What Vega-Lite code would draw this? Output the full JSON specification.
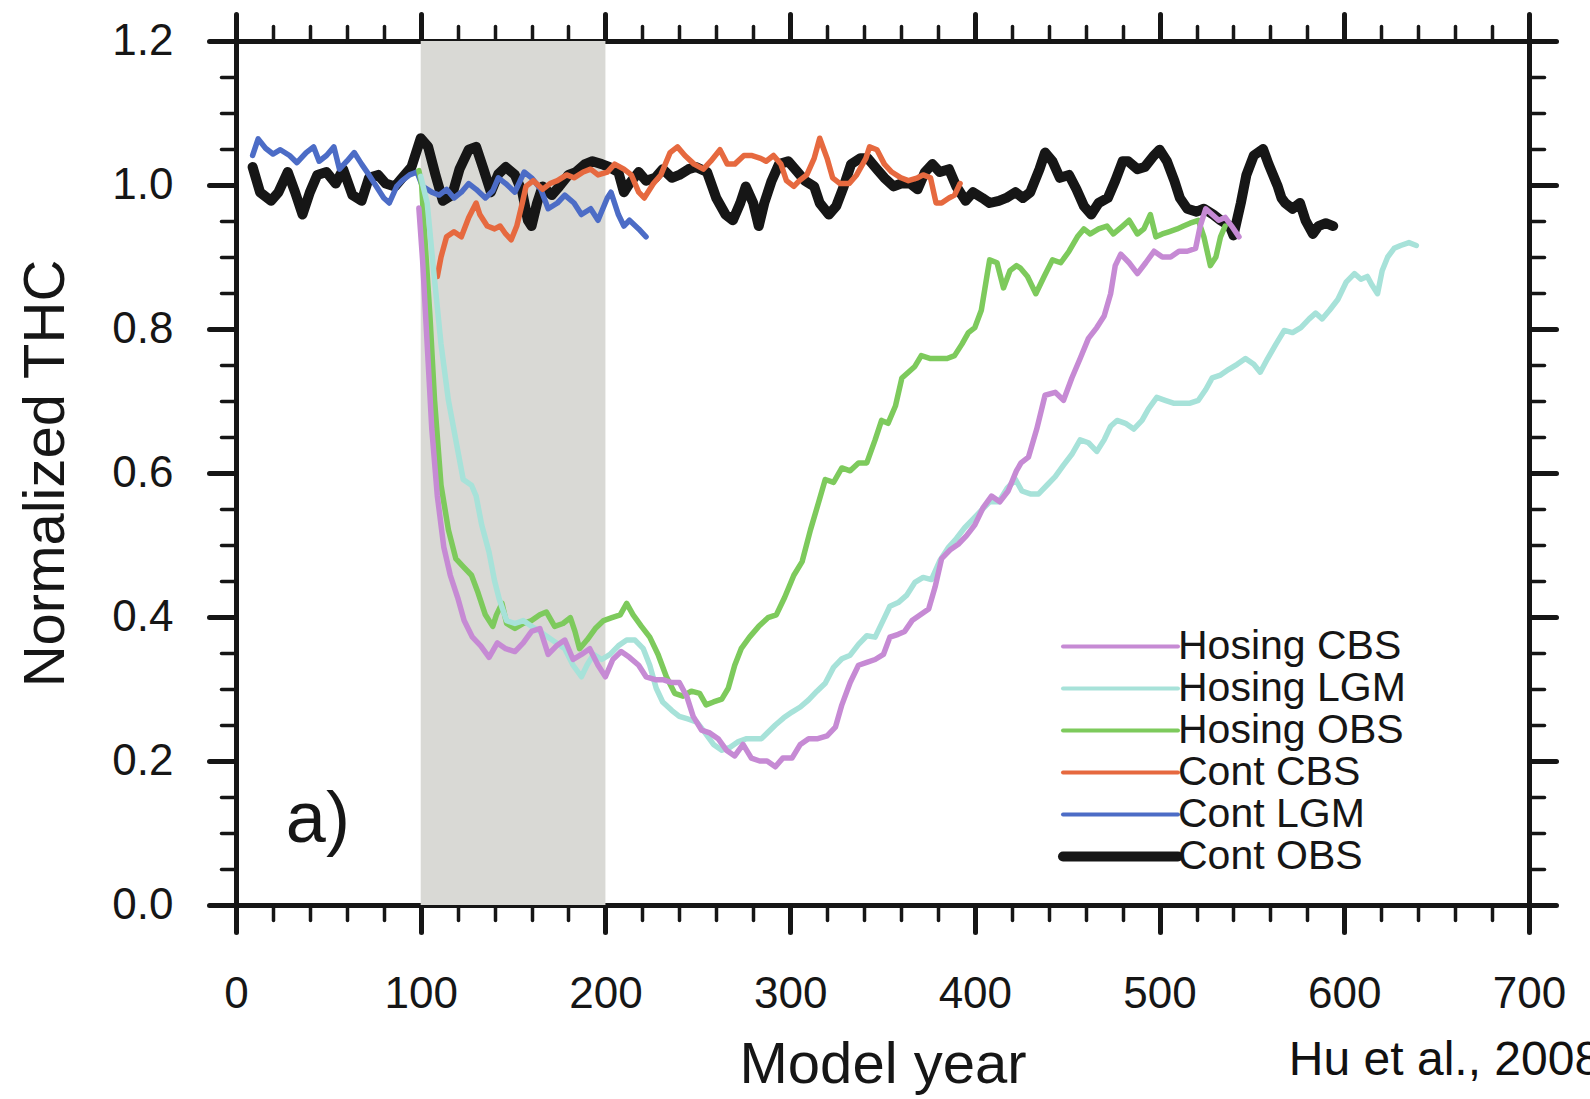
{
  "$schema": "https://vega.github.io/schema/vega-lite/v6.json",
  "width": 1293,
  "height": 864,
  "autosize": {"type": "none"},
  "padding": {"left": 236, "top": 41, "right": 61, "bottom": 194},
  "background": "white",
  "config": {
    "view": {"stroke": null},
    "font": "Liberation Sans",
    "axis": {
      "domainColor": "#161616",
      "domainWidth": 5,
      "domainCap": "square",
      "tickColor": "#161616",
      "tickCap": "round",
      "labelColor": "#161616",
      "titleColor": "#161616",
      "labelFont": "Liberation Sans",
      "titleFont": "Liberation Sans",
      "labelFontSize": 44,
      "titleFontSize": 58,
      "titleFontWeight": "normal",
      "labelFlush": false,
      "labelOverlap": false,
      "labelBound": false,
      "grid": false,
      "zindex": 1
    },
    "legend": {
      "orient": "none", "legendX": 901, "legendY": 585, "title": null, "padding": 0,
      "symbolType": "M-9.45,0H2.05", "symbolSize": 400, "symbolStrokeWidth": 4,
      "labelFont": "Liberation Sans", "labelFontSize": 41, "labelColor": "#161616",
      "labelOffset": 0, "labelLimit": 500, "rowPadding": 0
    }
  },
  "datasets": {
    "thc": [
      {"series":"Cont OBS","year":9,"thc":1.025},{"series":"Cont OBS","year":13,"thc":0.990},{"series":"Cont OBS","year":19,"thc":0.978},{"series":"Cont OBS","year":23,"thc":0.990},{"series":"Cont OBS","year":28,"thc":1.018},{"series":"Cont OBS","year":32,"thc":0.990},{"series":"Cont OBS","year":36,"thc":0.959},{"series":"Cont OBS","year":40,"thc":0.990},{"series":"Cont OBS","year":44,"thc":1.014},{"series":"Cont OBS","year":49,"thc":1.018},{"series":"Cont OBS","year":54,"thc":1.002},{"series":"Cont OBS","year":58,"thc":1.022},{"series":"Cont OBS","year":63,"thc":0.986},{"series":"Cont OBS","year":68,"thc":0.978},{"series":"Cont OBS","year":72,"thc":1.010},{"series":"Cont OBS","year":77,"thc":1.014},{"series":"Cont OBS","year":81,"thc":1.002},{"series":"Cont OBS","year":86,"thc":0.998},{"series":"Cont OBS","year":90,"thc":1.010},{"series":"Cont OBS","year":95,"thc":1.025},{"series":"Cont OBS","year":100,"thc":1.065},{"series":"Cont OBS","year":104,"thc":1.053},{"series":"Cont OBS","year":108,"thc":1.014},{"series":"Cont OBS","year":112,"thc":0.978},{"series":"Cont OBS","year":117,"thc":0.986},{"series":"Cont OBS","year":121,"thc":1.022},{"series":"Cont OBS","year":126,"thc":1.049},{"series":"Cont OBS","year":130,"thc":1.053},{"series":"Cont OBS","year":134,"thc":1.022},{"series":"Cont OBS","year":138,"thc":0.990},{"series":"Cont OBS","year":142,"thc":1.015},{"series":"Cont OBS","year":146,"thc":1.025},{"series":"Cont OBS","year":151,"thc":1.014},{"series":"Cont OBS","year":155,"thc":0.990},{"series":"Cont OBS","year":158,"thc":0.951},{"series":"Cont OBS","year":160,"thc":0.943},{"series":"Cont OBS","year":163,"thc":0.975},{"series":"Cont OBS","year":166,"thc":0.998},{"series":"Cont OBS","year":171,"thc":0.986},{"series":"Cont OBS","year":175,"thc":0.998},{"series":"Cont OBS","year":180,"thc":1.014},{"series":"Cont OBS","year":184,"thc":1.018},{"series":"Cont OBS","year":189,"thc":1.029},{"series":"Cont OBS","year":193,"thc":1.033},{"series":"Cont OBS","year":198,"thc":1.029},{"series":"Cont OBS","year":202,"thc":1.025},{"series":"Cont OBS","year":207,"thc":1.018},{"series":"Cont OBS","year":210,"thc":0.990},{"series":"Cont OBS","year":213,"thc":1.002},{"series":"Cont OBS","year":218,"thc":1.018},{"series":"Cont OBS","year":222,"thc":1.006},{"series":"Cont OBS","year":227,"thc":1.010},{"series":"Cont OBS","year":231,"thc":1.022},{"series":"Cont OBS","year":236,"thc":1.010},{"series":"Cont OBS","year":240,"thc":1.014},{"series":"Cont OBS","year":245,"thc":1.022},{"series":"Cont OBS","year":249,"thc":1.025},{"series":"Cont OBS","year":255,"thc":1.018},{"series":"Cont OBS","year":260,"thc":0.982},{"series":"Cont OBS","year":265,"thc":0.959},{"series":"Cont OBS","year":269,"thc":0.951},{"series":"Cont OBS","year":273,"thc":0.975},{"series":"Cont OBS","year":276,"thc":0.998},{"series":"Cont OBS","year":280,"thc":0.975},{"series":"Cont OBS","year":283,"thc":0.943},{"series":"Cont OBS","year":286,"thc":0.975},{"series":"Cont OBS","year":290,"thc":1.006},{"series":"Cont OBS","year":294,"thc":1.029},{"series":"Cont OBS","year":299,"thc":1.033},{"series":"Cont OBS","year":304,"thc":1.018},{"series":"Cont OBS","year":308,"thc":1.006},{"series":"Cont OBS","year":313,"thc":0.998},{"series":"Cont OBS","year":316,"thc":0.975},{"series":"Cont OBS","year":321,"thc":0.959},{"series":"Cont OBS","year":325,"thc":0.971},{"series":"Cont OBS","year":329,"thc":0.998},{"series":"Cont OBS","year":333,"thc":1.029},{"series":"Cont OBS","year":338,"thc":1.037},{"series":"Cont OBS","year":342,"thc":1.037},{"series":"Cont OBS","year":347,"thc":1.022},{"series":"Cont OBS","year":351,"thc":1.010},{"series":"Cont OBS","year":356,"thc":0.998},{"series":"Cont OBS","year":360,"thc":1.002},{"series":"Cont OBS","year":365,"thc":1.002},{"series":"Cont OBS","year":369,"thc":0.994},{"series":"Cont OBS","year":373,"thc":1.018},{"series":"Cont OBS","year":377,"thc":1.029},{"series":"Cont OBS","year":381,"thc":1.018},{"series":"Cont OBS","year":386,"thc":1.022},{"series":"Cont OBS","year":390,"thc":0.998},{"series":"Cont OBS","year":395,"thc":0.978},{"series":"Cont OBS","year":399,"thc":0.990},{"series":"Cont OBS","year":404,"thc":0.982},{"series":"Cont OBS","year":408,"thc":0.975},{"series":"Cont OBS","year":413,"thc":0.978},{"series":"Cont OBS","year":417,"thc":0.982},{"series":"Cont OBS","year":422,"thc":0.990},{"series":"Cont OBS","year":426,"thc":0.982},{"series":"Cont OBS","year":430,"thc":0.990},{"series":"Cont OBS","year":435,"thc":1.022},{"series":"Cont OBS","year":438,"thc":1.045},{"series":"Cont OBS","year":442,"thc":1.033},{"series":"Cont OBS","year":446,"thc":1.010},{"series":"Cont OBS","year":451,"thc":1.014},{"series":"Cont OBS","year":455,"thc":0.994},{"series":"Cont OBS","year":459,"thc":0.971},{"series":"Cont OBS","year":463,"thc":0.959},{"series":"Cont OBS","year":467,"thc":0.975},{"series":"Cont OBS","year":472,"thc":0.982},{"series":"Cont OBS","year":476,"thc":1.006},{"series":"Cont OBS","year":480,"thc":1.033},{"series":"Cont OBS","year":483,"thc":1.033},{"series":"Cont OBS","year":488,"thc":1.022},{"series":"Cont OBS","year":492,"thc":1.025},{"series":"Cont OBS","year":497,"thc":1.041},{"series":"Cont OBS","year":500,"thc":1.049},{"series":"Cont OBS","year":504,"thc":1.033},{"series":"Cont OBS","year":508,"thc":1.006},{"series":"Cont OBS","year":511,"thc":0.982},{"series":"Cont OBS","year":515,"thc":0.967},{"series":"Cont OBS","year":520,"thc":0.963},{"series":"Cont OBS","year":524,"thc":0.967},{"series":"Cont OBS","year":529,"thc":0.959},{"series":"Cont OBS","year":533,"thc":0.951},{"series":"Cont OBS","year":538,"thc":0.943},{"series":"Cont OBS","year":540,"thc":0.930},{"series":"Cont OBS","year":544,"thc":0.975},{"series":"Cont OBS","year":547,"thc":1.014},{"series":"Cont OBS","year":551,"thc":1.041},{"series":"Cont OBS","year":556,"thc":1.050},{"series":"Cont OBS","year":559,"thc":1.029},{"series":"Cont OBS","year":564,"thc":0.998},{"series":"Cont OBS","year":566,"thc":0.982},{"series":"Cont OBS","year":568,"thc":0.975},{"series":"Cont OBS","year":572,"thc":0.967},{"series":"Cont OBS","year":576,"thc":0.975},{"series":"Cont OBS","year":579,"thc":0.951},{"series":"Cont OBS","year":583,"thc":0.932},{"series":"Cont OBS","year":586,"thc":0.943},{"series":"Cont OBS","year":590,"thc":0.947},{"series":"Cont OBS","year":594,"thc":0.943},

      {"series":"Cont LGM","year":9,"thc":1.041},{"series":"Cont LGM","year":12,"thc":1.064},{"series":"Cont LGM","year":16,"thc":1.051},{"series":"Cont LGM","year":20,"thc":1.043},{"series":"Cont LGM","year":24,"thc":1.049},{"series":"Cont LGM","year":29,"thc":1.041},{"series":"Cont LGM","year":33,"thc":1.031},{"series":"Cont LGM","year":38,"thc":1.045},{"series":"Cont LGM","year":42,"thc":1.053},{"series":"Cont LGM","year":45,"thc":1.033},{"series":"Cont LGM","year":49,"thc":1.041},{"series":"Cont LGM","year":53,"thc":1.053},{"series":"Cont LGM","year":56,"thc":1.022},{"series":"Cont LGM","year":60,"thc":1.033},{"series":"Cont LGM","year":64,"thc":1.045},{"series":"Cont LGM","year":68,"thc":1.029},{"series":"Cont LGM","year":72,"thc":1.014},{"series":"Cont LGM","year":76,"thc":0.998},{"series":"Cont LGM","year":80,"thc":0.982},{"series":"Cont LGM","year":83,"thc":0.975},{"series":"Cont LGM","year":87,"thc":0.998},{"series":"Cont LGM","year":90,"thc":1.006},{"series":"Cont LGM","year":94,"thc":1.014},{"series":"Cont LGM","year":98,"thc":1.018},{"series":"Cont LGM","year":101,"thc":0.998},{"series":"Cont LGM","year":106,"thc":0.990},{"series":"Cont LGM","year":110,"thc":0.986},{"series":"Cont LGM","year":114,"thc":0.994},{"series":"Cont LGM","year":118,"thc":0.982},{"series":"Cont LGM","year":122,"thc":0.990},{"series":"Cont LGM","year":126,"thc":1.002},{"series":"Cont LGM","year":130,"thc":0.994},{"series":"Cont LGM","year":135,"thc":0.982},{"series":"Cont LGM","year":139,"thc":0.992},{"series":"Cont LGM","year":142,"thc":1.010},{"series":"Cont LGM","year":146,"thc":1.002},{"series":"Cont LGM","year":151,"thc":0.990},{"series":"Cont LGM","year":156,"thc":1.018},{"series":"Cont LGM","year":160,"thc":1.010},{"series":"Cont LGM","year":165,"thc":0.994},{"series":"Cont LGM","year":169,"thc":0.967},{"series":"Cont LGM","year":174,"thc":0.975},{"series":"Cont LGM","year":178,"thc":0.986},{"series":"Cont LGM","year":183,"thc":0.975},{"series":"Cont LGM","year":187,"thc":0.959},{"series":"Cont LGM","year":192,"thc":0.967},{"series":"Cont LGM","year":196,"thc":0.951},{"series":"Cont LGM","year":201,"thc":0.982},{"series":"Cont LGM","year":203,"thc":0.990},{"series":"Cont LGM","year":207,"thc":0.959},{"series":"Cont LGM","year":210,"thc":0.943},{"series":"Cont LGM","year":213,"thc":0.951},{"series":"Cont LGM","year":218,"thc":0.939},{"series":"Cont LGM","year":222,"thc":0.928},

      {"series":"Cont CBS","year":109,"thc":0.873},{"series":"Cont CBS","year":111,"thc":0.900},{"series":"Cont CBS","year":114,"thc":0.928},{"series":"Cont CBS","year":118,"thc":0.935},{"series":"Cont CBS","year":122,"thc":0.928},{"series":"Cont CBS","year":126,"thc":0.955},{"series":"Cont CBS","year":130,"thc":0.975},{"series":"Cont CBS","year":132,"thc":0.959},{"series":"Cont CBS","year":136,"thc":0.943},{"series":"Cont CBS","year":140,"thc":0.939},{"series":"Cont CBS","year":143,"thc":0.943},{"series":"Cont CBS","year":146,"thc":0.932},{"series":"Cont CBS","year":149,"thc":0.924},{"series":"Cont CBS","year":152,"thc":0.943},{"series":"Cont CBS","year":155,"thc":0.975},{"series":"Cont CBS","year":157,"thc":0.998},{"series":"Cont CBS","year":161,"thc":1.006},{"series":"Cont CBS","year":166,"thc":0.994},{"series":"Cont CBS","year":170,"thc":1.002},{"series":"Cont CBS","year":174,"thc":1.006},{"series":"Cont CBS","year":179,"thc":1.014},{"series":"Cont CBS","year":183,"thc":1.010},{"series":"Cont CBS","year":188,"thc":1.018},{"series":"Cont CBS","year":192,"thc":1.022},{"series":"Cont CBS","year":196,"thc":1.014},{"series":"Cont CBS","year":201,"thc":1.018},{"series":"Cont CBS","year":205,"thc":1.029},{"series":"Cont CBS","year":210,"thc":1.022},{"series":"Cont CBS","year":214,"thc":1.014},{"series":"Cont CBS","year":218,"thc":0.990},{"series":"Cont CBS","year":221,"thc":0.982},{"series":"Cont CBS","year":226,"thc":1.002},{"series":"Cont CBS","year":230,"thc":1.014},{"series":"Cont CBS","year":235,"thc":1.045},{"series":"Cont CBS","year":239,"thc":1.053},{"series":"Cont CBS","year":243,"thc":1.041},{"series":"Cont CBS","year":248,"thc":1.029},{"series":"Cont CBS","year":253,"thc":1.022},{"series":"Cont CBS","year":257,"thc":1.033},{"series":"Cont CBS","year":262,"thc":1.049},{"series":"Cont CBS","year":266,"thc":1.029},{"series":"Cont CBS","year":270,"thc":1.029},{"series":"Cont CBS","year":275,"thc":1.041},{"series":"Cont CBS","year":279,"thc":1.041},{"series":"Cont CBS","year":284,"thc":1.037},{"series":"Cont CBS","year":287,"thc":1.033},{"series":"Cont CBS","year":291,"thc":1.041},{"series":"Cont CBS","year":295,"thc":1.029},{"series":"Cont CBS","year":298,"thc":1.006},{"series":"Cont CBS","year":302,"thc":0.998},{"series":"Cont CBS","year":305,"thc":1.006},{"series":"Cont CBS","year":309,"thc":1.014},{"series":"Cont CBS","year":313,"thc":1.037},{"series":"Cont CBS","year":316,"thc":1.065},{"series":"Cont CBS","year":320,"thc":1.037},{"series":"Cont CBS","year":323,"thc":1.010},{"series":"Cont CBS","year":327,"thc":1.002},{"series":"Cont CBS","year":332,"thc":1.002},{"series":"Cont CBS","year":336,"thc":1.014},{"series":"Cont CBS","year":341,"thc":1.037},{"series":"Cont CBS","year":343,"thc":1.053},{"series":"Cont CBS","year":347,"thc":1.049},{"series":"Cont CBS","year":351,"thc":1.029},{"series":"Cont CBS","year":355,"thc":1.018},{"series":"Cont CBS","year":360,"thc":1.010},{"series":"Cont CBS","year":364,"thc":1.006},{"series":"Cont CBS","year":369,"thc":1.010},{"series":"Cont CBS","year":372,"thc":1.014},{"series":"Cont CBS","year":376,"thc":1.010},{"series":"Cont CBS","year":379,"thc":0.975},{"series":"Cont CBS","year":382,"thc":0.975},{"series":"Cont CBS","year":386,"thc":0.982},{"series":"Cont CBS","year":389,"thc":0.986},{"series":"Cont CBS","year":392,"thc":1.002},

      {"series":"Hosing OBS","year":99,"thc":1.020},{"series":"Hosing OBS","year":100.5,"thc":1.000},{"series":"Hosing OBS","year":102,"thc":0.935},{"series":"Hosing OBS","year":105,"thc":0.818},{"series":"Hosing OBS","year":107.5,"thc":0.701},{"series":"Hosing OBS","year":111,"thc":0.583},{"series":"Hosing OBS","year":115,"thc":0.521},{"series":"Hosing OBS","year":119,"thc":0.481},{"series":"Hosing OBS","year":123,"thc":0.470},{"series":"Hosing OBS","year":127.5,"thc":0.458},{"series":"Hosing OBS","year":131,"thc":0.434},{"series":"Hosing OBS","year":135,"thc":0.403},{"series":"Hosing OBS","year":139,"thc":0.387},{"series":"Hosing OBS","year":141,"thc":0.403},{"series":"Hosing OBS","year":144,"thc":0.419},{"series":"Hosing OBS","year":146.5,"thc":0.391},{"series":"Hosing OBS","year":151,"thc":0.384},{"series":"Hosing OBS","year":155.5,"thc":0.391},{"series":"Hosing OBS","year":160,"thc":0.395},{"series":"Hosing OBS","year":164.5,"thc":0.403},{"series":"Hosing OBS","year":168,"thc":0.407},{"series":"Hosing OBS","year":172.5,"thc":0.387},{"series":"Hosing OBS","year":177,"thc":0.391},{"series":"Hosing OBS","year":181,"thc":0.399},{"series":"Hosing OBS","year":183.5,"thc":0.380},{"series":"Hosing OBS","year":186,"thc":0.356},{"series":"Hosing OBS","year":190,"thc":0.368},{"series":"Hosing OBS","year":194.5,"thc":0.384},{"series":"Hosing OBS","year":199,"thc":0.395},{"series":"Hosing OBS","year":203.5,"thc":0.399},{"series":"Hosing OBS","year":208,"thc":0.403},{"series":"Hosing OBS","year":211.5,"thc":0.419},{"series":"Hosing OBS","year":215,"thc":0.403},{"series":"Hosing OBS","year":219.5,"thc":0.387},{"series":"Hosing OBS","year":224,"thc":0.372},{"series":"Hosing OBS","year":228.5,"thc":0.348},{"series":"Hosing OBS","year":233,"thc":0.317},{"series":"Hosing OBS","year":237.5,"thc":0.294},{"series":"Hosing OBS","year":242,"thc":0.290},{"series":"Hosing OBS","year":246.5,"thc":0.297},{"series":"Hosing OBS","year":251,"thc":0.294},{"series":"Hosing OBS","year":254.5,"thc":0.278},{"series":"Hosing OBS","year":258.5,"thc":0.282},{"series":"Hosing OBS","year":263,"thc":0.286},{"series":"Hosing OBS","year":266.5,"thc":0.301},{"series":"Hosing OBS","year":270,"thc":0.333},{"series":"Hosing OBS","year":273.5,"thc":0.356},{"series":"Hosing OBS","year":278,"thc":0.372},{"series":"Hosing OBS","year":283,"thc":0.387},{"series":"Hosing OBS","year":288,"thc":0.399},{"series":"Hosing OBS","year":292.5,"thc":0.403},{"series":"Hosing OBS","year":297,"thc":0.427},{"series":"Hosing OBS","year":302,"thc":0.458},{"series":"Hosing OBS","year":306.5,"thc":0.477},{"series":"Hosing OBS","year":311,"thc":0.521},{"series":"Hosing OBS","year":315.5,"thc":0.560},{"series":"Hosing OBS","year":319,"thc":0.591},{"series":"Hosing OBS","year":323.5,"thc":0.587},{"series":"Hosing OBS","year":328,"thc":0.607},{"series":"Hosing OBS","year":332.5,"thc":0.603},{"series":"Hosing OBS","year":337,"thc":0.614},{"series":"Hosing OBS","year":341.5,"thc":0.614},{"series":"Hosing OBS","year":346,"thc":0.646},{"series":"Hosing OBS","year":349.5,"thc":0.673},{"series":"Hosing OBS","year":353,"thc":0.669},{"series":"Hosing OBS","year":357,"thc":0.693},{"series":"Hosing OBS","year":360.5,"thc":0.732},{"series":"Hosing OBS","year":364,"thc":0.740},{"series":"Hosing OBS","year":367.5,"thc":0.748},{"series":"Hosing OBS","year":371,"thc":0.763},{"series":"Hosing OBS","year":376,"thc":0.759},{"series":"Hosing OBS","year":380,"thc":0.759},{"series":"Hosing OBS","year":385,"thc":0.759},{"series":"Hosing OBS","year":389,"thc":0.763},{"series":"Hosing OBS","year":393,"thc":0.779},{"series":"Hosing OBS","year":396.5,"thc":0.795},{"series":"Hosing OBS","year":400,"thc":0.802},{"series":"Hosing OBS","year":403.5,"thc":0.826},{"series":"Hosing OBS","year":406.5,"thc":0.873},{"series":"Hosing OBS","year":408,"thc":0.896},{"series":"Hosing OBS","year":412,"thc":0.892},{"series":"Hosing OBS","year":415.5,"thc":0.857},{"series":"Hosing OBS","year":419,"thc":0.881},{"series":"Hosing OBS","year":422.5,"thc":0.888},{"series":"Hosing OBS","year":424.5,"thc":0.885},{"series":"Hosing OBS","year":428.5,"thc":0.873},{"series":"Hosing OBS","year":433,"thc":0.849},{"series":"Hosing OBS","year":437.5,"thc":0.873},{"series":"Hosing OBS","year":442,"thc":0.896},{"series":"Hosing OBS","year":446.5,"thc":0.892},{"series":"Hosing OBS","year":451,"thc":0.908},{"series":"Hosing OBS","year":455.5,"thc":0.928},{"series":"Hosing OBS","year":459,"thc":0.939},{"series":"Hosing OBS","year":462.5,"thc":0.932},{"series":"Hosing OBS","year":467,"thc":0.939},{"series":"Hosing OBS","year":471.5,"thc":0.943},{"series":"Hosing OBS","year":475,"thc":0.932},{"series":"Hosing OBS","year":480,"thc":0.943},{"series":"Hosing OBS","year":483.5,"thc":0.951},{"series":"Hosing OBS","year":488,"thc":0.932},{"series":"Hosing OBS","year":491.5,"thc":0.939},{"series":"Hosing OBS","year":495,"thc":0.959},{"series":"Hosing OBS","year":498,"thc":0.928},{"series":"Hosing OBS","year":501.5,"thc":0.932},{"series":"Hosing OBS","year":505,"thc":0.935},{"series":"Hosing OBS","year":509.5,"thc":0.939},{"series":"Hosing OBS","year":513,"thc":0.943},{"series":"Hosing OBS","year":516.5,"thc":0.947},{"series":"Hosing OBS","year":521,"thc":0.951},{"series":"Hosing OBS","year":524,"thc":0.928},{"series":"Hosing OBS","year":527.5,"thc":0.888},{"series":"Hosing OBS","year":530.5,"thc":0.900},{"series":"Hosing OBS","year":533,"thc":0.928},{"series":"Hosing OBS","year":535.5,"thc":0.943},

      {"series":"Hosing LGM","year":100,"thc":1.012},{"series":"Hosing LGM","year":103.5,"thc":0.975},{"series":"Hosing LGM","year":107,"thc":0.881},{"series":"Hosing LGM","year":111,"thc":0.779},{"series":"Hosing LGM","year":115,"thc":0.701},{"series":"Hosing LGM","year":119,"thc":0.646},{"series":"Hosing LGM","year":123,"thc":0.591},{"series":"Hosing LGM","year":127.5,"thc":0.583},{"series":"Hosing LGM","year":130,"thc":0.568},{"series":"Hosing LGM","year":133,"thc":0.528},{"series":"Hosing LGM","year":137,"thc":0.490},{"series":"Hosing LGM","year":140,"thc":0.450},{"series":"Hosing LGM","year":142.5,"thc":0.425},{"series":"Hosing LGM","year":146.5,"thc":0.395},{"series":"Hosing LGM","year":151,"thc":0.391},{"series":"Hosing LGM","year":155.5,"thc":0.395},{"series":"Hosing LGM","year":160,"thc":0.387},{"series":"Hosing LGM","year":164.5,"thc":0.380},{"series":"Hosing LGM","year":169,"thc":0.372},{"series":"Hosing LGM","year":173.5,"thc":0.364},{"series":"Hosing LGM","year":178,"thc":0.356},{"series":"Hosing LGM","year":182.5,"thc":0.333},{"series":"Hosing LGM","year":187,"thc":0.317},{"series":"Hosing LGM","year":190,"thc":0.333},{"series":"Hosing LGM","year":193.5,"thc":0.348},{"series":"Hosing LGM","year":198,"thc":0.341},{"series":"Hosing LGM","year":202.5,"thc":0.348},{"series":"Hosing LGM","year":207,"thc":0.360},{"series":"Hosing LGM","year":211.5,"thc":0.368},{"series":"Hosing LGM","year":216,"thc":0.368},{"series":"Hosing LGM","year":220.5,"thc":0.356},{"series":"Hosing LGM","year":224,"thc":0.333},{"series":"Hosing LGM","year":227.5,"thc":0.301},{"series":"Hosing LGM","year":231,"thc":0.282},{"series":"Hosing LGM","year":236,"thc":0.270},{"series":"Hosing LGM","year":240,"thc":0.262},{"series":"Hosing LGM","year":245,"thc":0.258},{"series":"Hosing LGM","year":249.5,"thc":0.254},{"series":"Hosing LGM","year":254,"thc":0.239},{"series":"Hosing LGM","year":258.5,"thc":0.223},{"series":"Hosing LGM","year":263,"thc":0.215},{"series":"Hosing LGM","year":267.5,"thc":0.219},{"series":"Hosing LGM","year":272,"thc":0.227},{"series":"Hosing LGM","year":276.5,"thc":0.231},{"series":"Hosing LGM","year":281,"thc":0.231},{"series":"Hosing LGM","year":284.5,"thc":0.231},{"series":"Hosing LGM","year":288,"thc":0.240},{"series":"Hosing LGM","year":292,"thc":0.250},{"series":"Hosing LGM","year":296.5,"thc":0.260},{"series":"Hosing LGM","year":301,"thc":0.268},{"series":"Hosing LGM","year":305.5,"thc":0.275},{"series":"Hosing LGM","year":310,"thc":0.285},{"series":"Hosing LGM","year":314.5,"thc":0.297},{"series":"Hosing LGM","year":319,"thc":0.308},{"series":"Hosing LGM","year":323.5,"thc":0.330},{"series":"Hosing LGM","year":328,"thc":0.342},{"series":"Hosing LGM","year":332.5,"thc":0.347},{"series":"Hosing LGM","year":337,"thc":0.362},{"series":"Hosing LGM","year":341.5,"thc":0.374},{"series":"Hosing LGM","year":346,"thc":0.372},{"series":"Hosing LGM","year":350.5,"thc":0.396},{"series":"Hosing LGM","year":354,"thc":0.415},{"series":"Hosing LGM","year":358.5,"thc":0.420},{"series":"Hosing LGM","year":363,"thc":0.430},{"series":"Hosing LGM","year":367.5,"thc":0.448},{"series":"Hosing LGM","year":372,"thc":0.455},{"series":"Hosing LGM","year":376.5,"thc":0.452},{"series":"Hosing LGM","year":381,"thc":0.478},{"series":"Hosing LGM","year":385.5,"thc":0.496},{"series":"Hosing LGM","year":390,"thc":0.509},{"series":"Hosing LGM","year":394.5,"thc":0.524},{"series":"Hosing LGM","year":399,"thc":0.536},{"series":"Hosing LGM","year":403.5,"thc":0.548},{"series":"Hosing LGM","year":408,"thc":0.560},{"series":"Hosing LGM","year":413,"thc":0.560},{"series":"Hosing LGM","year":417.5,"thc":0.579},{"series":"Hosing LGM","year":422,"thc":0.591},{"series":"Hosing LGM","year":425.5,"thc":0.575},{"series":"Hosing LGM","year":430,"thc":0.571},{"series":"Hosing LGM","year":434.5,"thc":0.571},{"series":"Hosing LGM","year":439,"thc":0.583},{"series":"Hosing LGM","year":443.5,"thc":0.595},{"series":"Hosing LGM","year":448,"thc":0.611},{"series":"Hosing LGM","year":452.5,"thc":0.626},{"series":"Hosing LGM","year":457,"thc":0.646},{"series":"Hosing LGM","year":461.5,"thc":0.642},{"series":"Hosing LGM","year":466,"thc":0.630},{"series":"Hosing LGM","year":470,"thc":0.646},{"series":"Hosing LGM","year":473.5,"thc":0.665},{"series":"Hosing LGM","year":477,"thc":0.673},{"series":"Hosing LGM","year":481.5,"thc":0.669},{"series":"Hosing LGM","year":486,"thc":0.661},{"series":"Hosing LGM","year":490.5,"thc":0.673},{"series":"Hosing LGM","year":494,"thc":0.689},{"series":"Hosing LGM","year":498.5,"thc":0.705},{"series":"Hosing LGM","year":503,"thc":0.701},{"series":"Hosing LGM","year":507.5,"thc":0.697},{"series":"Hosing LGM","year":512,"thc":0.697},{"series":"Hosing LGM","year":516.5,"thc":0.697},{"series":"Hosing LGM","year":521,"thc":0.701},{"series":"Hosing LGM","year":525,"thc":0.716},{"series":"Hosing LGM","year":528.5,"thc":0.732},{"series":"Hosing LGM","year":533,"thc":0.736},{"series":"Hosing LGM","year":537.5,"thc":0.744},{"series":"Hosing LGM","year":542,"thc":0.751},{"series":"Hosing LGM","year":546.5,"thc":0.759},{"series":"Hosing LGM","year":551,"thc":0.751},{"series":"Hosing LGM","year":554.5,"thc":0.740},{"series":"Hosing LGM","year":558.5,"thc":0.759},{"series":"Hosing LGM","year":563,"thc":0.779},{"series":"Hosing LGM","year":567.5,"thc":0.798},{"series":"Hosing LGM","year":572,"thc":0.795},{"series":"Hosing LGM","year":576.5,"thc":0.802},{"series":"Hosing LGM","year":581,"thc":0.814},{"series":"Hosing LGM","year":584.5,"thc":0.822},{"series":"Hosing LGM","year":588,"thc":0.814},{"series":"Hosing LGM","year":592,"thc":0.826},{"series":"Hosing LGM","year":596.5,"thc":0.841},{"series":"Hosing LGM","year":601,"thc":0.865},{"series":"Hosing LGM","year":605.5,"thc":0.877},{"series":"Hosing LGM","year":609,"thc":0.869},{"series":"Hosing LGM","year":612.5,"thc":0.873},{"series":"Hosing LGM","year":615,"thc":0.861},{"series":"Hosing LGM","year":618,"thc":0.849},{"series":"Hosing LGM","year":620.5,"thc":0.881},{"series":"Hosing LGM","year":623.5,"thc":0.900},{"series":"Hosing LGM","year":627,"thc":0.912},{"series":"Hosing LGM","year":630.5,"thc":0.916},{"series":"Hosing LGM","year":635,"thc":0.920},{"series":"Hosing LGM","year":639,"thc":0.916},

      {"series":"Hosing CBS","year":99,"thc":0.968},{"series":"Hosing CBS","year":101,"thc":0.896},{"series":"Hosing CBS","year":103.5,"thc":0.779},{"series":"Hosing CBS","year":106,"thc":0.661},{"series":"Hosing CBS","year":109,"thc":0.568},{"series":"Hosing CBS","year":112.5,"thc":0.497},{"series":"Hosing CBS","year":116,"thc":0.458},{"series":"Hosing CBS","year":120,"thc":0.427},{"series":"Hosing CBS","year":123.5,"thc":0.395},{"series":"Hosing CBS","year":128,"thc":0.372},{"series":"Hosing CBS","year":132.5,"thc":0.360},{"series":"Hosing CBS","year":137,"thc":0.344},{"series":"Hosing CBS","year":141.5,"thc":0.364},{"series":"Hosing CBS","year":146,"thc":0.356},{"series":"Hosing CBS","year":151,"thc":0.352},{"series":"Hosing CBS","year":155.5,"thc":0.364},{"series":"Hosing CBS","year":160,"thc":0.380},{"series":"Hosing CBS","year":164.5,"thc":0.384},{"series":"Hosing CBS","year":169,"thc":0.348},{"series":"Hosing CBS","year":173.5,"thc":0.360},{"series":"Hosing CBS","year":178,"thc":0.368},{"series":"Hosing CBS","year":182.5,"thc":0.341},{"series":"Hosing CBS","year":187,"thc":0.348},{"series":"Hosing CBS","year":191.5,"thc":0.356},{"series":"Hosing CBS","year":196,"thc":0.333},{"series":"Hosing CBS","year":200,"thc":0.317},{"series":"Hosing CBS","year":204,"thc":0.341},{"series":"Hosing CBS","year":208.5,"thc":0.352},{"series":"Hosing CBS","year":213,"thc":0.344},{"series":"Hosing CBS","year":218,"thc":0.333},{"series":"Hosing CBS","year":222,"thc":0.317},{"series":"Hosing CBS","year":227,"thc":0.313},{"series":"Hosing CBS","year":231,"thc":0.313},{"series":"Hosing CBS","year":236,"thc":0.309},{"series":"Hosing CBS","year":240,"thc":0.309},{"series":"Hosing CBS","year":244,"thc":0.290},{"series":"Hosing CBS","year":247.5,"thc":0.262},{"series":"Hosing CBS","year":252,"thc":0.243},{"series":"Hosing CBS","year":256.5,"thc":0.239},{"series":"Hosing CBS","year":261,"thc":0.231},{"series":"Hosing CBS","year":265.5,"thc":0.215},{"series":"Hosing CBS","year":270,"thc":0.207},{"series":"Hosing CBS","year":274.5,"thc":0.223},{"series":"Hosing CBS","year":279,"thc":0.204},{"series":"Hosing CBS","year":283.5,"thc":0.200},{"series":"Hosing CBS","year":287.5,"thc":0.200},{"series":"Hosing CBS","year":292,"thc":0.192},{"series":"Hosing CBS","year":296,"thc":0.204},{"series":"Hosing CBS","year":301,"thc":0.204},{"series":"Hosing CBS","year":305.5,"thc":0.223},{"series":"Hosing CBS","year":310,"thc":0.231},{"series":"Hosing CBS","year":315,"thc":0.231},{"series":"Hosing CBS","year":320,"thc":0.235},{"series":"Hosing CBS","year":324.5,"thc":0.247},{"series":"Hosing CBS","year":328,"thc":0.278},{"series":"Hosing CBS","year":332.5,"thc":0.309},{"series":"Hosing CBS","year":337,"thc":0.333},{"series":"Hosing CBS","year":341.5,"thc":0.337},{"series":"Hosing CBS","year":346,"thc":0.341},{"series":"Hosing CBS","year":350.5,"thc":0.348},{"series":"Hosing CBS","year":354,"thc":0.372},{"series":"Hosing CBS","year":358.5,"thc":0.376},{"series":"Hosing CBS","year":362,"thc":0.380},{"series":"Hosing CBS","year":366,"thc":0.395},{"series":"Hosing CBS","year":370.5,"thc":0.403},{"series":"Hosing CBS","year":375,"thc":0.411},{"series":"Hosing CBS","year":378.5,"thc":0.442},{"series":"Hosing CBS","year":382,"thc":0.481},{"series":"Hosing CBS","year":386.5,"thc":0.493},{"series":"Hosing CBS","year":391,"thc":0.501},{"series":"Hosing CBS","year":395.5,"thc":0.513},{"series":"Hosing CBS","year":400,"thc":0.528},{"series":"Hosing CBS","year":404.5,"thc":0.552},{"series":"Hosing CBS","year":409,"thc":0.568},{"series":"Hosing CBS","year":413.5,"thc":0.560},{"series":"Hosing CBS","year":418,"thc":0.575},{"series":"Hosing CBS","year":422.5,"thc":0.603},{"series":"Hosing CBS","year":425,"thc":0.614},{"series":"Hosing CBS","year":429,"thc":0.622},{"series":"Hosing CBS","year":433.5,"thc":0.661},{"series":"Hosing CBS","year":438,"thc":0.708},{"series":"Hosing CBS","year":443.5,"thc":0.712},{"series":"Hosing CBS","year":448,"thc":0.701},{"series":"Hosing CBS","year":452.5,"thc":0.732},{"series":"Hosing CBS","year":457,"thc":0.759},{"series":"Hosing CBS","year":461.5,"thc":0.787},{"series":"Hosing CBS","year":466,"thc":0.802},{"series":"Hosing CBS","year":470,"thc":0.818},{"series":"Hosing CBS","year":473.5,"thc":0.849},{"series":"Hosing CBS","year":476,"thc":0.888},{"series":"Hosing CBS","year":479,"thc":0.904},{"series":"Hosing CBS","year":483.5,"thc":0.892},{"series":"Hosing CBS","year":488,"thc":0.877},{"series":"Hosing CBS","year":492.5,"thc":0.892},{"series":"Hosing CBS","year":497,"thc":0.908},{"series":"Hosing CBS","year":501.5,"thc":0.900},{"series":"Hosing CBS","year":506,"thc":0.900},{"series":"Hosing CBS","year":510.5,"thc":0.908},{"series":"Hosing CBS","year":515,"thc":0.908},{"series":"Hosing CBS","year":519.5,"thc":0.912},{"series":"Hosing CBS","year":522,"thc":0.943},{"series":"Hosing CBS","year":525,"thc":0.967},{"series":"Hosing CBS","year":528.5,"thc":0.959},{"series":"Hosing CBS","year":532,"thc":0.951},{"series":"Hosing CBS","year":535.5,"thc":0.955},{"series":"Hosing CBS","year":539,"thc":0.943},{"series":"Hosing CBS","year":543,"thc":0.928}
    ]
  },
  "layer": [
    {
      "description": "Shaded hosing period, years 100 to 200, with the labelled bottom and left axes",
      "data": {"values": [{}]},
      "mark": {"type": "rect", "color": "#d9d9d5"},
      "encoding": {
        "x": {
          "datum": 100, "type": "quantitative",
          "scale": {"domain": [0, 700], "nice": false, "zero": false},
          "axis": {
            "orient": "bottom", "title": "Model year",
            "values": [0, 100, 200, 300, 400, 500, 600, 700], "format": "d",
            "tickSize": 27, "tickWidth": 5, "labelPadding": 40, "titlePadding": 20
          }
        },
        "x2": {"datum": 200},
        "y": {
          "datum": 0, "type": "quantitative",
          "scale": {"domain": [0, 1.2], "nice": false, "zero": false},
          "axis": {
            "orient": "left", "title": "Normalized THC",
            "values": [0, 0.2, 0.4, 0.6, 0.8, 1.0, 1.2], "format": ".1f",
            "tickSize": 27, "tickWidth": 5, "labelPadding": 36, "titlePadding": 36
          }
        },
        "y2": {"datum": 1.2}
      }
    },
    {
      "description": "Cont OBS drawn first and thick; carries the minor ticks of the bottom and left axes",
      "data": {"name": "thc"},
      "transform": [{"filter": "datum.series === 'Cont OBS'"}],
      "mark": {"type": "line", "strokeWidth": 10, "strokeCap": "round", "strokeJoin": "round"},
      "encoding": {
        "x": {
          "field": "year", "type": "quantitative",
          "scale": {"domain": [0, 700], "nice": false, "zero": false},
          "axis": {
            "orient": "bottom", "title": null, "labels": false, "domain": false,
            "values": [0,20,40,60,80,100,120,140,160,180,200,220,240,260,280,300,320,340,360,380,400,420,440,460,480,500,520,540,560,580,600,620,640,660,680,700],
            "tickSize": 15, "tickWidth": 3.5
          }
        },
        "y": {
          "field": "thc", "type": "quantitative",
          "scale": {"domain": [0, 1.2], "nice": false, "zero": false},
          "axis": {
            "orient": "left", "title": null, "labels": false, "domain": false,
            "values": [0,0.05,0.1,0.15,0.2,0.25,0.3,0.35,0.4,0.45,0.5,0.55,0.6,0.65,0.7,0.75,0.8,0.85,0.9,0.95,1.0,1.05,1.1,1.15,1.2],
            "tickSize": 15, "tickWidth": 3.5
          }
        },
        "color": {
          "field": "series", "type": "nominal",
          "scale": {
            "domain": ["Hosing CBS", "Hosing LGM", "Hosing OBS", "Cont CBS", "Cont LGM", "Cont OBS"],
            "range": ["#c68ad4", "#a7e2d9", "#7dca5c", "#e6693f", "#4c6cc6", "#161616"]
          },
          "legend": {
            "encode": {
              "symbols": {"update": {
                "strokeWidth": {"signal": "datum.value === 'Cont OBS' ? 10 : 4"},
                "strokeCap": {"value": "round"}
              }}
            }
          }
        }
      }
    },
    {
      "description": "The other five runs; carries the top and right major ticks",
      "data": {"name": "thc"},
      "transform": [{"filter": "datum.series !== 'Cont OBS'"}],
      "mark": {"type": "line", "strokeWidth": 5.5, "strokeCap": "round", "strokeJoin": "round"},
      "encoding": {
        "x": {
          "field": "year", "type": "quantitative",
          "scale": {"domain": [0, 700], "nice": false, "zero": false},
          "axis": {
            "orient": "top", "title": null, "labels": false,
            "values": [0, 100, 200, 300, 400, 500, 600, 700],
            "tickSize": 27, "tickWidth": 5
          }
        },
        "y": {
          "field": "thc", "type": "quantitative",
          "scale": {"domain": [0, 1.2], "nice": false, "zero": false},
          "axis": {
            "orient": "right", "title": null, "labels": false,
            "values": [0, 0.2, 0.4, 0.6, 0.8, 1.0, 1.2],
            "tickSize": 27, "tickWidth": 5
          }
        },
        "color": {
          "field": "series", "type": "nominal",
          "scale": {
            "domain": ["Hosing CBS", "Hosing LGM", "Hosing OBS", "Cont CBS", "Cont LGM", "Cont OBS"],
            "range": ["#c68ad4", "#a7e2d9", "#7dca5c", "#e6693f", "#4c6cc6", "#161616"]
          },
          "legend": {
            "encode": {
              "symbols": {"update": {
                "strokeWidth": {"signal": "datum.value === 'Cont OBS' ? 10 : 4"},
                "strokeCap": {"value": "round"}
              }}
            }
          }
        }
      }
    },
    {
      "description": "Panel letter; carries the top and right minor ticks",
      "data": {"values": [{}]},
      "mark": {"type": "text", "text": "a)", "font": "Liberation Sans", "fontSize": 72, "align": "left", "baseline": "alphabetic", "color": "#161616"},
      "encoding": {
        "x": {
          "datum": 27, "type": "quantitative",
          "scale": {"domain": [0, 700], "nice": false, "zero": false},
          "axis": {
            "orient": "top", "title": null, "labels": false, "domain": false,
            "values": [0,20,40,60,80,100,120,140,160,180,200,220,240,260,280,300,320,340,360,380,400,420,440,460,480,500,520,540,560,580,600,620,640,660,680,700],
            "tickSize": 15, "tickWidth": 3.5
          }
        },
        "y": {
          "datum": 0.088, "type": "quantitative",
          "scale": {"domain": [0, 1.2], "nice": false, "zero": false},
          "axis": {
            "orient": "right", "title": null, "labels": false, "domain": false,
            "values": [0,0.05,0.1,0.15,0.2,0.25,0.3,0.35,0.4,0.45,0.5,0.55,0.6,0.65,0.7,0.75,0.8,0.85,0.9,0.95,1.0,1.05,1.1,1.15,1.2],
            "tickSize": 15, "tickWidth": 3.5
          }
        }
      }
    },
    {
      "description": "Source credit below the lower right corner",
      "data": {"values": [{}]},
      "mark": {"type": "text", "text": "Hu et al., 2008", "font": "Liberation Sans", "fontSize": 48, "align": "left", "baseline": "alphabetic", "color": "#111111"},
      "encoding": {
        "x": {"datum": 570, "type": "quantitative", "scale": {"domain": [0, 700], "nice": false, "zero": false}, "axis": null},
        "y": {"datum": -0.236, "type": "quantitative", "scale": {"domain": [0, 1.2], "nice": false, "zero": false}, "axis": null}
      }
    }
  ],
  "resolve": {"axis": {"x": "independent", "y": "independent"}}
}
